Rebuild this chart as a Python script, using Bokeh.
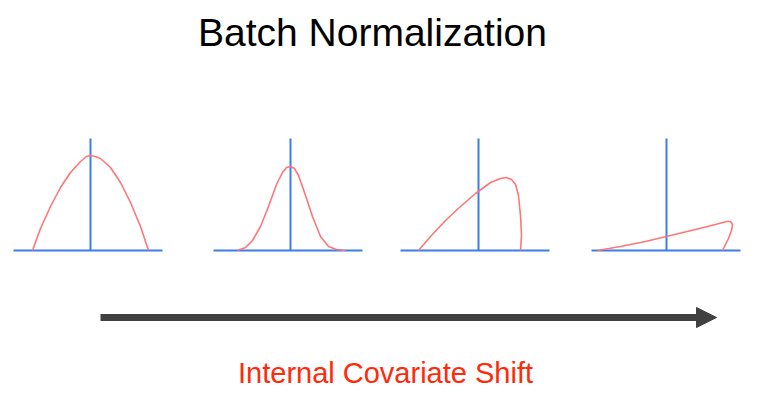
from bokeh.plotting import figure
from bokeh.models import Range1d, Arrow, NormalHead
from bokeh.core.properties import value
from bokeh.embed import file_html
from bokeh.resources import INLINE

# four distributions (pixel-like coords, y grows downward)
curve1_x = [32, 40, 50, 60, 70, 80, 86, 90, 95, 100, 110, 120, 130, 140, 148]
curve1_y = [250, 228, 206, 187, 172, 161, 156, 155, 156, 158, 167, 182, 202, 226, 250]
curve2_x = [237, 245, 252, 260, 268, 276, 282, 286, 290, 294, 298, 304, 312, 320, 328, 336, 345]
curve2_y = [250, 247, 240, 226, 206, 184, 172, 167, 166, 168, 175, 192, 216, 236, 246, 249, 250]
curve3_x = [418, 430, 445, 460, 475, 490, 500, 506, 511, 515, 518, 520, 521, 520]
curve3_y = [250, 236, 220, 206, 193, 182, 178, 177, 179, 184, 195, 215, 235, 250]
curve4_x = [597, 620, 645, 670, 695, 715, 726, 730, 732, 731, 728, 724, 722]
curve4_y = [250, 246, 241, 235, 229, 224, 221, 221, 224, 230, 238, 246, 250]

base_x0 = [13, 213, 400, 591]
base_x1 = [162, 362, 549, 740]
base_y = [250, 250, 250, 250]
axis_x = [90, 290, 478, 666]
axis_top = [138, 138, 138, 138]

arrow_start = (100, 317)
arrow_end = (716, 317)

title = "Batch Normalization"
caption = "Internal Covariate Shift"

W, H = 759, 408
p = figure(width=W, height=H, x_range=Range1d(0, W), y_range=Range1d(H, 0),
           output_backend="svg", toolbar_location=None, min_border=0)
p.axis.visible = False
p.grid.visible = False
p.outline_line_color = None
p.background_fill_color = "white"

blue = "#3b7ee6"
red = "#ff7676"
p.segment(x0=base_x0, y0=base_y, x1=base_x1, y1=base_y, line_color=blue, line_width=2)
p.segment(x0=axis_x, y0=axis_top, x1=axis_x, y1=base_y, line_color=blue, line_width=2)

for cx, cy in [(curve1_x, curve1_y), (curve2_x, curve2_y), (curve3_x, curve3_y), (curve4_x, curve4_y)]:
    p.line(cx, cy, line_color=red, line_width=1.6, line_join="round")

p.add_layout(Arrow(end=NormalHead(size=20, fill_color="#404040", line_color="#404040"),
                   x_start=arrow_start[0], y_start=arrow_start[1],
                   x_end=arrow_end[0], y_end=arrow_end[1],
                   line_color="#404040", line_width=7))

p.text(x=[372], y=[32], text=[title], text_align="center", text_baseline="middle",
       text_font=value("Liberation Sans"), text_font_size="39px", text_color="black")
p.text(x=[385], y=[372], text=[caption], text_align="center", text_baseline="middle",
       text_font=value("Liberation Sans"), text_font_size="29px", text_color="#ff2a0a")

open("out.html", "w").write(file_html(p, INLINE))
